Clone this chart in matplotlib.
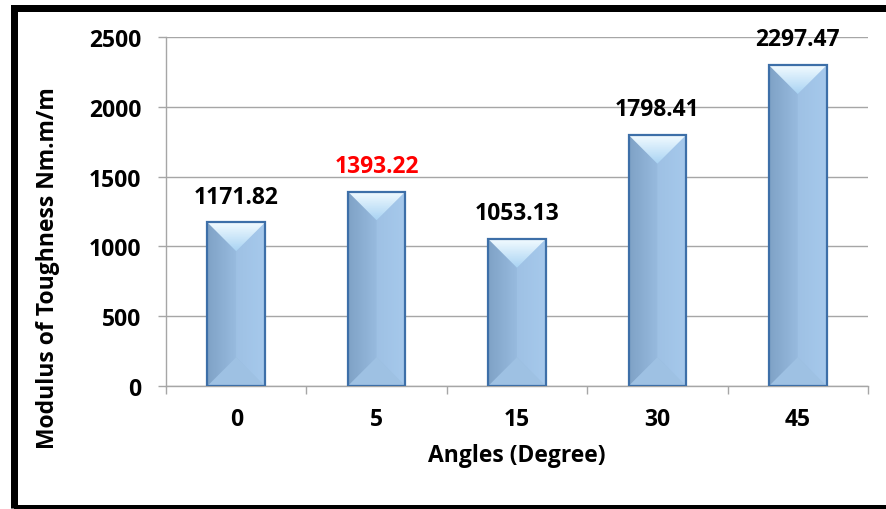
import numpy as np
import matplotlib
matplotlib.use("Agg")
import matplotlib.pyplot as plt
from matplotlib.patches import Polygon, Rectangle
from matplotlib.colors import LinearSegmentedColormap

angles = ["0", "5", "15", "30", "45"]
toughness = [1171.82, 1393.22, 1053.13, 1798.41, 2297.47]
label_colors = ["black", "red", "black", "black", "black"]
y_ticks = [0, 500, 1000, 1500, 2000, 2500]

plt.rcParams["font.family"] = ["Open Sans", "DejaVu Sans"]
plt.rcParams["font.weight"] = "bold"

W, H, DPI = 886, 510, 100
fig = plt.figure(figsize=(W / DPI, H / DPI), dpi=DPI)
ax = fig.add_axes([166 / W, 1 - 387 / H, (868 - 166) / W, (387 - 38) / H])

x = np.arange(len(angles))
bar_w = 0.41
ax.set_xlim(-0.5, len(angles) - 0.5)
ax.set_ylim(0, 2500)

FS = 16.5
TICK = 5.8
grid_c = "#a6a6a6"
ax.set_yticks(y_ticks)
ax.set_yticklabels([str(t) for t in y_ticks], fontsize=FS, fontweight="bold")
ax.yaxis.grid(True, color=grid_c, linewidth=1.0)
ax.set_axisbelow(True)
ax.tick_params(axis="y", length=TICK, color=grid_c, width=1.0, pad=12)

ax.set_xticks(x)
ax.set_xticklabels(angles, fontsize=FS, fontweight="bold")
ax.tick_params(axis="x", length=0, pad=15)
ax.set_xticks(np.arange(-0.5, len(angles)), minor=True)
ax.tick_params(axis="x", which="minor", length=TICK, color=grid_c, width=1.0)

for s in ["top", "right"]:
    ax.spines[s].set_visible(False)
for s in ["left", "bottom"]:
    ax.spines[s].set_color(grid_c)
    ax.spines[s].set_linewidth(1.0)

ax.set_xlabel("Angles (Degree)", fontsize=FS, fontweight="bold", labelpad=9)
ax.set_ylabel("Modulus of Toughness Nm.m/m", fontsize=FS, fontweight="bold")
ax.yaxis.set_label_coords(-0.151, 0.341)

# bevel depth equals half the bar width, converted to y data units
px_per_x = ax.bbox.width / (ax.get_xlim()[1] - ax.get_xlim()[0])
px_per_y = ax.bbox.height / (ax.get_ylim()[1] - ax.get_ylim()[0])
bevel = (bar_w / 2) * px_per_x / px_per_y

side_cmap = LinearSegmentedColormap.from_list("side", ["#7fa2c6", "#98bbdf", "#a4c8ec"])
top_cmap = LinearSegmentedColormap.from_list("top", ["#a9d3f3", "#f2fbff"])

bars = ax.bar(x, toughness, width=bar_w, color="none", edgecolor="#3d6fa8",
              linewidth=1.6, zorder=4)

for xi, v, b in zip(x, toughness, bars):
    l, r = xi - bar_w / 2, xi + bar_w / 2
    d = min(bevel, v / 2)
    # horizontal gradient body
    grad = np.linspace(0, 1, 64).reshape(1, -1)
    im = ax.imshow(grad, cmap=side_cmap, extent=[l, r, 0, v], aspect="auto",
                   zorder=2, interpolation="bilinear")
    im.set_clip_path(b)
    # right half slightly lighter face
    ax.add_patch(Polygon([[xi, d], [r, 0], [r, v], [xi, v - d]], closed=True,
                         facecolor="#a9cbed", alpha=0.4, edgecolor="none", zorder=2.5))
    # bottom bevel
    ax.add_patch(Polygon([[l, 0], [r, 0], [xi, d]], closed=True,
                         facecolor="#9ec1e3", edgecolor="none", zorder=2.6))
    # top bevel with vertical gradient
    tri = Polygon([[l, v], [r, v], [xi, v - d]], closed=True,
                  facecolor="none", edgecolor="none", zorder=3)
    ax.add_patch(tri)
    tgrad = np.linspace(0, 1, 64).reshape(-1, 1)
    tim = ax.imshow(tgrad, cmap=top_cmap, extent=[l, r, v - d, v], aspect="auto",
                    origin="lower", zorder=3, interpolation="bilinear")
    tim.set_clip_path(tri)

for xi, v, c in zip(x, toughness, label_colors):
    ax.annotate(f"{v:.2f}", (xi, v), xytext=(0, 10), textcoords="offset points",
                ha="center", va="bottom", fontsize=FS, fontweight="bold", color=c,
                zorder=6)

ax.set_xlim(-0.5, len(angles) - 0.5)
ax.set_ylim(0, 2500)

# thick frame around the chart
fig.patches.append(Rectangle((13.5 / W, 1.5 / H), 1.2, (508.5 - 8.5) / H,
                             transform=fig.transFigure, fill=False,
                             edgecolor="black", linewidth=7 * 72 / DPI, zorder=10))

fig.savefig("out.png", dpi=DPI)
